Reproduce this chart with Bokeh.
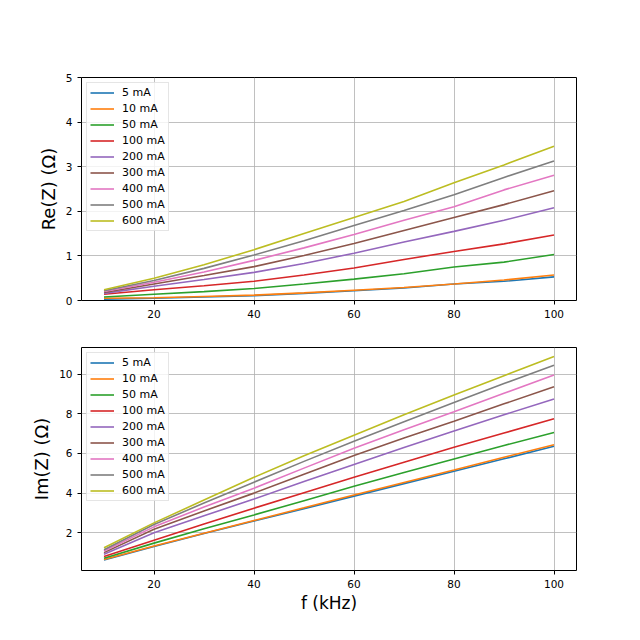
from bokeh.plotting import figure
from bokeh.layouts import column
from bokeh.models import Range1d, FixedTicker, Legend, LegendItem
from bokeh.embed import file_html
from bokeh.resources import INLINE

freqs = [10, 20, 30, 40, 50, 60, 70, 80, 90, 100]
labels = ["5 mA", "10 mA", "50 mA", "100 mA", "200 mA", "300 mA", "400 mA", "500 mA", "600 mA"]
colors = ["#1f77b4", "#ff7f0e", "#2ca02c", "#d62728", "#9467bd",
          "#8c564b", "#e377c2", "#7f7f7f", "#bcbd22"]

re_5 = [0.03, 0.05, 0.08, 0.11, 0.16, 0.22, 0.28, 0.37, 0.43, 0.53]
re_10 = [0.05, 0.06, 0.09, 0.12, 0.17, 0.23, 0.29, 0.37, 0.46, 0.57]
re_50 = [0.08, 0.14, 0.20, 0.27, 0.37, 0.48, 0.60, 0.75, 0.86, 1.03]
re_100 = [0.14, 0.24, 0.33, 0.43, 0.57, 0.73, 0.92, 1.10, 1.27, 1.47]
re_200 = [0.16, 0.32, 0.47, 0.63, 0.83, 1.06, 1.31, 1.55, 1.80, 2.08]
re_300 = [0.18, 0.37, 0.56, 0.76, 1.01, 1.28, 1.57, 1.86, 2.15, 2.46]
re_400 = [0.20, 0.41, 0.64, 0.90, 1.18, 1.48, 1.80, 2.10, 2.48, 2.81]
re_500 = [0.22, 0.45, 0.72, 1.02, 1.34, 1.68, 2.02, 2.37, 2.76, 3.13]
re_600 = [0.24, 0.50, 0.80, 1.14, 1.50, 1.86, 2.22, 2.64, 3.04, 3.46]

im_5 = [0.63, 1.31, 1.96, 2.59, 3.22, 3.85, 4.48, 5.10, 5.73, 6.36]
im_10 = [0.65, 1.33, 1.98, 2.62, 3.26, 3.91, 4.54, 5.17, 5.81, 6.44]
im_50 = [0.72, 1.48, 2.20, 2.90, 3.62, 4.35, 5.04, 5.72, 6.40, 7.06]
im_100 = [0.80, 1.62, 2.44, 3.24, 4.02, 4.80, 5.56, 6.31, 7.03, 7.75]
im_200 = [0.92, 2.00, 2.86, 3.70, 4.58, 5.44, 6.30, 7.13, 7.95, 8.74]
im_300 = [1.00, 2.18, 3.10, 4.00, 4.95, 5.90, 6.78, 7.62, 8.50, 9.36]
im_400 = [1.08, 2.30, 3.30, 4.25, 5.26, 6.26, 7.20, 8.10, 9.03, 9.95]
im_500 = [1.15, 2.42, 3.50, 4.55, 5.60, 6.62, 7.60, 8.57, 9.52, 10.45]
im_600 = [1.25, 2.50, 3.65, 4.80, 5.88, 6.92, 7.95, 8.94, 9.92, 10.89]

re_series = [re_5, re_10, re_50, re_100, re_200, re_300, re_400, re_500, re_600]
im_series = [im_5, im_10, im_50, im_100, im_200, im_300, im_400, im_500, im_600]

x_ticks = [20, 40, 60, 80, 100]
re_ticks = [0, 1, 2, 3, 4, 5]
im_ticks = [2, 4, 6, 8, 10]

FONT = "DejaVu Sans"


def make_fig(series, yrange, yticks, ylabel, xlabel, height, border_top, border_bottom):
    p = figure(width=608, height=height, output_backend="svg", toolbar_location=None,
               x_range=Range1d(5.5, 104.5), y_range=Range1d(*yrange),
               min_border_left=81, min_border_right=32,
               min_border_top=border_top, min_border_bottom=border_bottom)
    p.outline_line_color = "black"
    p.outline_line_alpha = 1
    p.outline_line_width = 1
    for ax in (p.xaxis[0], p.yaxis[0]):
        ax.axis_line_color = None
        ax.major_tick_out = 4
        ax.major_tick_in = 0
        ax.minor_tick_line_color = None
        ax.major_label_text_font = FONT
        ax.major_label_text_font_size = "10.5px"
        ax.major_label_text_color = "black"
        ax.major_tick_line_color = "black"
    p.xaxis.ticker = FixedTicker(ticks=x_ticks)
    p.yaxis.ticker = FixedTicker(ticks=yticks)
    p.yaxis.axis_label = ylabel
    p.yaxis.axis_label_text_font = FONT
    p.yaxis.axis_label_text_font_size = "18px"
    p.yaxis.axis_label_text_font_style = "normal"
    p.yaxis.axis_label_text_color = "black"
    p.yaxis.axis_label_standoff = 4
    if xlabel:
        p.xaxis.axis_label = xlabel
        p.xaxis.axis_label_text_font = FONT
        p.xaxis.axis_label_text_font_size = "17px"
        p.xaxis.axis_label_text_font_style = "normal"
        p.xaxis.axis_label_text_color = "black"
        p.xaxis.axis_label_standoff = 2
    p.grid.grid_line_color = "#b0b0b0"
    p.grid.grid_line_width = 0.8
    items = []
    for lab, col, ys in zip(labels, colors, series):
        r = p.line(freqs, ys, line_color=col, line_width=1.6)
        items.append(LegendItem(label=lab, renderers=[r]))
    leg = Legend(items=items, location="top_left")
    leg.label_text_font = FONT
    leg.label_text_font_size = "11px"
    leg.label_text_color = "black"
    leg.glyph_width = 24
    leg.glyph_height = 13
    leg.label_height = 13
    leg.spacing = 3
    leg.padding = 3
    leg.margin = 5
    leg.label_standoff = 8
    leg.border_line_color = "#cccccc"
    leg.background_fill_alpha = 0.8
    p.add_layout(leg)
    return p


p1 = make_fig(re_series, (0, 5), re_ticks, "Re(Z) (Ω)", None, 325, 77, 25)
p2 = make_fig(im_series, (0.1, 11.34), im_ticks, "Im(Z) (Ω)", "f (kHz)", 300, 22, 55)

layout = column(p1, p2, spacing=0)
open("out.html", "w").write(file_html(layout, INLINE))
